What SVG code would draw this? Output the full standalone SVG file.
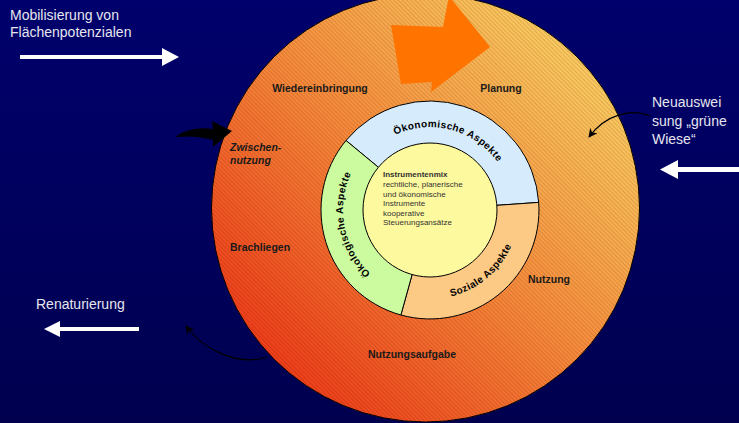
<svg xmlns="http://www.w3.org/2000/svg" width="739" height="423" viewBox="0 0 739 423">
<style>
.w{font-family:"Liberation Sans",Arial,sans-serif;font-size:14px;fill:#E6E6EE}
.lb{font-family:"Liberation Sans",Arial,sans-serif;font-size:10.5px;font-weight:bold;fill:#1a1a1a}
.ct{font-family:"Liberation Sans",Arial,sans-serif;font-size:8px;fill:#333}
.arc{font-family:"Liberation Sans",Arial,sans-serif;font-size:10px;font-weight:bold;fill:#000;letter-spacing:0.4px}
.seg{stroke:#000;stroke-width:1}
.thin{fill:none;stroke:#000;stroke-width:1.2}
.wa{fill:#fff}
</style>
<defs>
<linearGradient id="bg" x1="0" y1="0" x2="0" y2="1">
<stop offset="0" stop-color="#00006C"/>
<stop offset="1" stop-color="#00004F"/>
</linearGradient>
<linearGradient id="og" x1="0.1" y1="0.9" x2="0.9" y2="0.1">
<stop offset="0" stop-color="#EF3515"/>
<stop offset="0.5" stop-color="#F8893A"/>
<stop offset="1" stop-color="#FCD264"/>
</linearGradient>
<pattern id="hatch" width="10" height="3" patternUnits="userSpaceOnUse" patternTransform="rotate(45)">
<rect x="0" y="0" width="10" height="1" fill="#000" fill-opacity="0.13"/>
</pattern>
<marker id="ah" viewBox="0 0 10 10" refX="9" refY="5" markerWidth="9" markerHeight="9" markerUnits="userSpaceOnUse" orient="auto">
<path d="M0,0 L10,5 L0,10 L3,5 Z" fill="#000"/>
</marker>
<path id="pTop" d="M352,181.6 A83,83 0 0 1 511.7,224.4"/>
<path id="pLeft" d="M416.4,295.9 A87,87 0 0 1 385.2,135.4"/>
<path id="pRight" d="M385.5,287.1 A89,89 0 0 0 513.6,179.6"/>
</defs>
<rect width="739" height="423" fill="url(#bg)"/>

<g id="outer-ring">
<circle cx="425.5" cy="208" r="214" fill="url(#og)"/>
<circle cx="425.5" cy="208" r="214" fill="url(#hatch)" stroke="#000" stroke-width="1"/>
</g>

<g id="big-arrow">
<polygon points="391,25 443,27 449,-4 490,47 431,92 432,82 401,84" fill="#FF7300"/>
</g>

<g id="label-wiedereinbringung"><text class="lb" x="320" y="92" text-anchor="middle">Wiedereinbringung</text></g>
<g id="label-planung"><text class="lb" x="501" y="92" text-anchor="middle">Planung</text></g>
<g id="label-zwischennutzung"><text class="lb" x="230" y="151" font-style="italic">Zwischen-</text><text class="lb" x="230" y="164" font-style="italic">nutzung</text></g>
<g id="label-brachliegen"><text class="lb" x="230" y="251">Brachliegen</text></g>
<g id="label-nutzung"><text class="lb" x="528" y="283">Nutzung</text></g>
<g id="label-nutzungsaufgabe"><text class="lb" x="412" y="358" text-anchor="middle">Nutzungsaufgabe</text></g>

<g id="oekonomische">
<path class="seg" d="M430,210 L346,140.5 A109,109 0 0 1 538.7,202.4 Z" fill="#D6ECFC"/>
</g>
<g id="soziale">
<path class="seg" d="M430,210 L538.7,202.4 A109,109 0 0 1 400.9,315 Z" fill="#FDCA86"/>
</g>
<g id="oekologische">
<path class="seg" d="M430,210 L400.9,315 A109,109 0 0 1 346,140.5 Z" fill="#CBFB9E"/>
</g>
<g id="instrumentenmix">
<circle class="seg" cx="430" cy="210" r="67" fill="#FDF99E"/>
<text class="ct" x="383" y="177" font-weight="bold" fill="#1a1a1a">Instrumentenmix</text>
<text class="ct" x="383" y="187">rechtliche, planerische</text>
<text class="ct" x="383" y="196.5">und ökonomische</text>
<text class="ct" x="383" y="206">Instrumente</text>
<text class="ct" x="383" y="215.5">kooperative</text>
<text class="ct" x="383" y="225">Steuerungsansätze</text>
</g>
<g id="arc-labels">
<text class="arc"><textPath href="#pTop" startOffset="50%" text-anchor="middle">Ökonomische Aspekte</textPath></text>
<text class="arc"><textPath href="#pLeft" startOffset="50%" text-anchor="middle">Ökologische Aspekte</textPath></text>
<text class="arc"><textPath href="#pRight" startOffset="50%" text-anchor="middle">Soziale Aspekte</textPath></text>
</g>

<g id="mobilisierung">
<text class="w" x="10" y="20">Mobilisierung von</text>
<text class="w" x="10" y="37">Flächenpotenzialen</text>
</g>
<g id="neuausweisung">
<text class="w" x="652" y="107">Neuauswei</text>
<text class="w" x="652" y="125.5">sung „grüne</text>
<text class="w" x="652" y="144">Wiese“</text>
</g>
<g id="renaturierung">
<text class="w" x="36" y="309">Renaturierung</text>
</g>

<g id="connectors">
<rect class="wa" x="20" y="55" width="144" height="4"/>
<polygon class="wa" points="162,48 179,57 162,66"/>
<rect class="wa" x="676" y="167" width="63" height="5"/>
<polygon class="wa" points="678,160 660,169.5 678,179"/>
<rect class="wa" x="58" y="327" width="81" height="4"/>
<polygon class="wa" points="60,321 44,329 60,337"/>
<path class="thin" d="M650,116 C632,108 606,114 589,137" marker-end="url(#ah)"/>
<path class="thin" d="M267,357 C240,366 205,352 186,326" marker-end="url(#ah)"/>
<path d="M175,137 Q190,126 213,129 L212,121 L232,131 L213,147 L213,140 Q196,135 175,137 Z" fill="#000"/>
</g>
</svg>
